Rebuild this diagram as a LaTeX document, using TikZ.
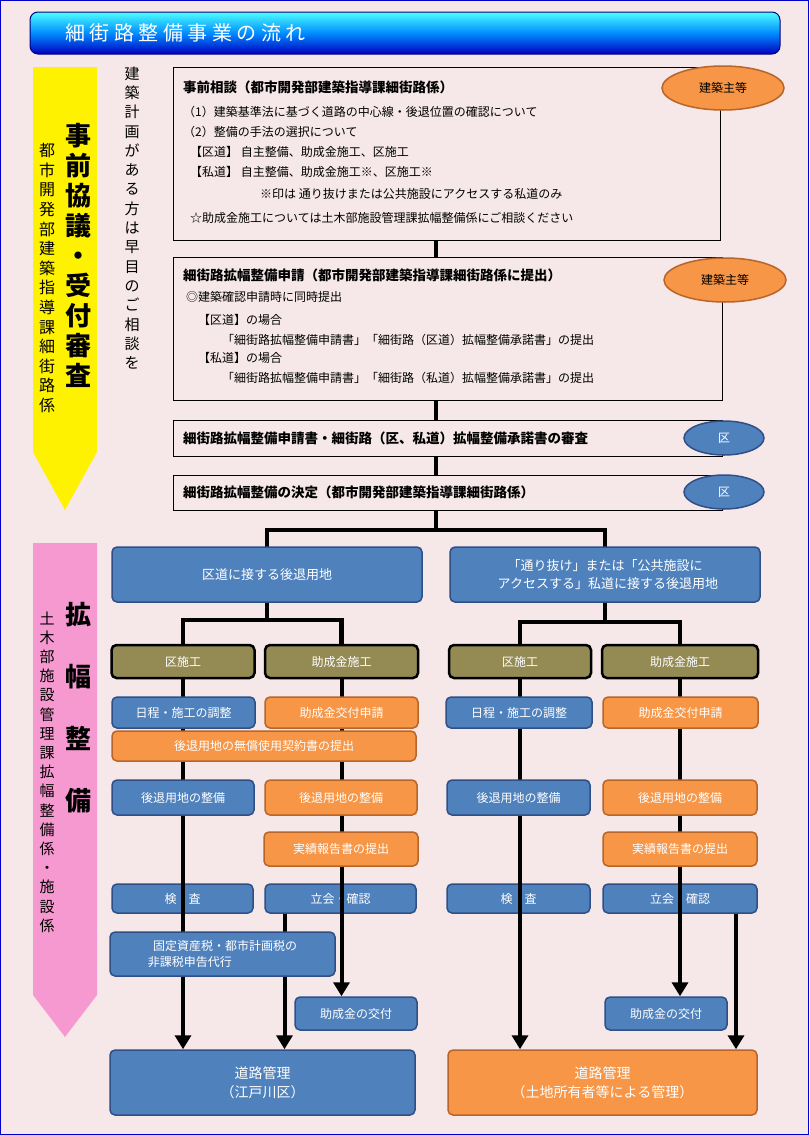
\documentclass[tikz,border=0pt]{standalone}
\usepackage{fontspec}
\setmainfont{Noto Sans CJK JP}
\usepackage{tikz}
\usetikzlibrary{shapes.geometric, arrows.meta}
\definecolor{bgpink}{HTML}{F6E8E8}
\definecolor{bxblue}{HTML}{4F81BD}
\definecolor{bdblue}{HTML}{2F4F86}
\definecolor{bxorange}{HTML}{F79646}
\definecolor{bdorange}{HTML}{B8652A}
\definecolor{bxolive}{HTML}{948A54}
\tikzstyle{flowbox} = [rectangle, draw=black, fill=bgpink, line width=0.8pt]
\tikzstyle{bluebox} = [rectangle, rounded corners=5pt, draw=bdblue, line width=1.5pt, fill=bxblue, text=white, font=\fontsize{12}{15}\selectfont, align=center, inner sep=0pt]
\tikzstyle{orangebox} = [bluebox, draw=bdorange, fill=bxorange]
\tikzstyle{olivebox} = [bluebox, draw=black, line width=2.5pt, fill=bxolive]
\tikzstyle{tagorange} = [ellipse, draw=bdorange, line width=1.5pt, fill=bxorange, font=\fontsize{12}{14}\selectfont, inner sep=0pt]
\tikzstyle{tagblue} = [ellipse, draw=bdblue, line width=1.5pt, fill=bxblue, text=white, font=\fontsize{12}{14}\selectfont, inner sep=0pt]
\tikzstyle{line} = [line width=4.5pt]
\tikzstyle{arrow} = [line width=4pt, -{Triangle[length=14pt,width=16pt]}]
\tikzstyle{txt} = [anchor=west, inner sep=0pt, font=\fontsize{12}{14}\selectfont]
\tikzstyle{ttl} = [anchor=west, inner sep=0pt, font=\fontsize{13.5}{15}\selectfont\bfseries]

\begin{document}
\begin{tikzpicture}[x=1pt, y=-1pt]
\useasboundingbox (0,0) rectangle (809,1135);
\fill[bgpink] (0,0) rectangle (809,1135);
\draw[blue!80!black, line width=1pt] (0.5,0.5) rectangle (808.5,1134.5);

% title bar
\shade[rounded corners=8pt, top color=cyan!70!white, bottom color=blue!75!black, middle color=blue!45!cyan] (30,12) rectangle (780,54);
\draw[rounded corners=8pt, blue!50!black, line width=1pt] (30,12) rectangle (780,54);
\node (title) [anchor=west, text=white, font=\fontsize{20}{22}\selectfont] at (62,33) {細\ 街\ 路\ 整\ 備\ 事\ 業\ の\ 流\ れ};

% side arrows
\fill[yellow] (33,67) -- (97,67) -- (97,452) -- (65,510) -- (33,452) -- cycle;
\fill[magenta!40!white] (33,543) -- (97,543) -- (97,995) -- (65,1037) -- (33,995) -- cycle;
\node (phase1) [align=center, inner sep=0pt, font=\fontsize{26}{30}\selectfont\bfseries] at (78,255) {事\\前\\協\\議\\・\\受\\付\\審\\査};
\node (dept1) [align=center, inner sep=0pt, font=\fontsize{16}{19.6}\selectfont] at (47,278) {都\\市\\開\\発\\部\\建\\築\\指\\導\\課\\細\\街\\路\\係};
\node (advice) [align=center, inner sep=0pt, font=\fontsize{15}{19.3}\selectfont] at (132,218) {建\\築\\計\\画\\が\\あ\\る\\方\\は\\早\\目\\の\\ご\\相\\談\\を};
\node (phase2) [align=center, inner sep=0pt, font=\fontsize{26}{62}\selectfont\bfseries] at (78,708) {拡\\幅\\整\\備};
\node (dept2) [align=center, inner sep=0pt, font=\fontsize{15}{19.2}\selectfont] at (47,772) {土\\木\\部\\施\\設\\管\\理\\課\\拡\\幅\\整\\備\\係\\・\\施\\設\\係};

% spine lines
\coordinate (spine) at (436,0);
\node (pre) [flowbox, minimum width=547pt, minimum height=173pt] at (446.5,153.5) {};
\node (apply) [flowbox, minimum width=549pt, minimum height=143pt] at (447.5,328.5) {};
\node (review) [flowbox, minimum width=549pt, minimum height=36pt] at (447.5,438) {};
\node (decide) [flowbox, minimum width=549pt, minimum height=35pt] at (447.5,492.5) {};
\draw[line] (spine |- pre.south) -- (spine |- apply.north);
\draw[line] (spine |- apply.south) -- (spine |- review.north);
\draw[line] (spine |- review.south) -- (spine |- decide.north);

\node (preT) [ttl] at (183,87) {事前相談（都市開発部建築指導課細街路係）};
\node (pre1) [txt] at (183,112) {（1）建築基準法に基づく道路の中心線・後退位置の確認について};
\node (pre2) [txt] at (183,132) {（2）整備の手法の選択について};
\node (pre3) [txt] at (190,152) {【区道】 自主整備、助成金施工、区施工};
\node (pre4) [txt] at (190,172) {【私道】 自主整備、助成金施工※、区施工※};
\node (pre5) [txt] at (260,194) {※印は 通り抜けまたは公共施設にアクセスする私道のみ};
\node (pre6) [txt] at (190,218) {☆助成金施工については土木部施設管理課拡幅整備係にご相談ください};
\node (ownerA) [tagorange, minimum width=122pt, minimum height=44pt] at (723,88) {建築主等};

\node (applyT) [ttl] at (183,275) {細街路拡幅整備申請（都市開発部建築指導課細街路係に提出）};
\node (apply1) [txt] at (186,297) {◎建築確認申請時に同時提出};
\node (apply2) [txt] at (198,320) {【区道】の場合};
\node (apply3) [txt] at (222,340) {「細街路拡幅整備申請書」「細街路（区道）拡幅整備承諾書」の提出};
\node (apply4) [txt] at (198,358) {【私道】の場合};
\node (apply5) [txt] at (222,378) {「細街路拡幅整備申請書」「細街路（私道）拡幅整備承諾書」の提出};
\node (ownerB) [tagorange, minimum width=122pt, minimum height=44pt] at (725,280) {建築主等};

\node (reviewT) [ttl] at (183,438) {細街路拡幅整備申請書・細街路（区、私道）拡幅整備承諾書の審査};
\node (wardA) [tagblue, minimum width=80pt, minimum height=34pt] at (724,438) {区};
\node (decideT) [ttl] at (183,492) {細街路拡幅整備の決定（都市開発部建築指導課細街路係）};
\node (wardB) [tagblue, minimum width=80pt, minimum height=34pt] at (724,492) {区};

% connectors behind the boxes
\coordinate (lk) at (183,661.5);
\coordinate (lj) at (341.5,661.5);
\coordinate (rk) at (520,661.5);
\coordinate (rj) at (680,661.5);
\draw[line] (spine |- decide.south) -- (436,530) -| (267,560);
\draw[line] (436,530) -| (605,560);
\draw[line] (267,590) -- (267,620) -| (lk);
\draw[line] (267,620) -| (lj);
\draw[line] (605,590) -- (605,622) -| (rk);
\draw[line] (605,622) -| (rj);

\node (roadL) [bluebox, minimum width=305pt, minimum height=65pt, font=\fontsize{14}{19}\selectfont] at (262.5,1082.5) {道路管理\\（江戸川区）};
\node (roadR) [orangebox, minimum width=309pt, minimum height=65pt, font=\fontsize{14}{19}\selectfont] at (602.5,1082.5) {道路管理\\（土地所有者等による管理）};
\node (grantL) [bluebox, minimum width=122pt, minimum height=33pt] at (356,1013.5) {助成金の交付};
\node (grantR) [bluebox, minimum width=122pt, minimum height=33pt] at (666,1013.5) {助成金の交付};
\node (checkL) [bluebox, minimum width=141pt, minimum height=29pt] at (182.5,898.5) {検\quad 査};
\node (meetL) [bluebox, minimum width=151pt, minimum height=29pt] at (340.5,898.5) {立会・確認};
\node (checkR) [bluebox, minimum width=143pt, minimum height=29pt] at (518.5,898.5) {検\quad 査};
\node (meetR) [bluebox, minimum width=154pt, minimum height=29pt] at (680,898.5) {立会・確認};
\coordinate (m2) at ([xshift=-56pt]meetL.south);
\coordinate (m3) at ([xshift=56pt]meetR.south);

\draw[arrow] (lk) -- (lk |- roadL.north);
\draw[arrow] (m2) -- (m2 |- roadL.north);
\draw[arrow] (lj) -- (lj |- grantL.north);
\draw[arrow] (rk) -- (rk |- roadR.north);
\draw[arrow] (rj) -- (rj |- grantR.north);
\draw[arrow] (m3) -- (m3 |- roadR.north);

\node (ksL) [olivebox, minimum width=143pt, minimum height=33pt] at (lk) {区施工};
\node (jsL) [olivebox, minimum width=153pt, minimum height=33pt] at (lj) {助成金施工};
\node (ksR) [olivebox, minimum width=142pt, minimum height=33pt] at (rk) {区施工};
\node (jsR) [olivebox, minimum width=156pt, minimum height=33pt] at (rj) {助成金施工};
\node (roadA) [bluebox, minimum width=310pt, minimum height=55pt, font=\fontsize{13}{18}\selectfont] at (267,574.5) {区道に接する後退用地};
\node (roadB) [bluebox, minimum width=310pt, minimum height=55pt, font=\fontsize{13}{18}\selectfont] at (605,574.5) {「通り抜け」または「公共施設に\\\ \ アクセスする」私道に接する後退用地};

\node (schedL) [bluebox, minimum width=143pt, minimum height=31pt] at (183.5,712.5) {日程・施工の調整};
\node (reqL) [orangebox, minimum width=153pt, minimum height=31pt] at (341.5,712.5) {助成金交付申請};
\node (schedR) [bluebox, minimum width=146pt, minimum height=31pt] at (519,712.5) {日程・施工の調整};
\node (reqR) [orangebox, minimum width=155pt, minimum height=31pt] at (680.5,712.5) {助成金交付申請};
\node (contract) [orangebox, minimum width=304pt, minimum height=30pt] at (264,746) {後退用地の無償使用契約書の提出};
\node (workL) [bluebox, minimum width=142pt, minimum height=35pt] at (183,797.5) {後退用地の整備};
\node (workLj) [orangebox, minimum width=152pt, minimum height=35pt] at (341,797.5) {後退用地の整備};
\node (workR) [bluebox, minimum width=143pt, minimum height=35pt] at (518.5,797.5) {後退用地の整備};
\node (workRj) [orangebox, minimum width=154pt, minimum height=35pt] at (680,797.5) {後退用地の整備};
\node (reportL) [orangebox, minimum width=154pt, minimum height=34pt] at (341,849) {実績報告書の提出};
\node (reportR) [orangebox, minimum width=154pt, minimum height=34pt] at (680,849) {実績報告書の提出};
\node (tax) [bluebox, minimum width=225pt, minimum height=44pt, align=left, font=\fontsize{12}{16}\selectfont] at (222.5,954) {\ \ 固定資産税・都市計画税の\\非課税申告代行};
\end{tikzpicture}
\end{document}
